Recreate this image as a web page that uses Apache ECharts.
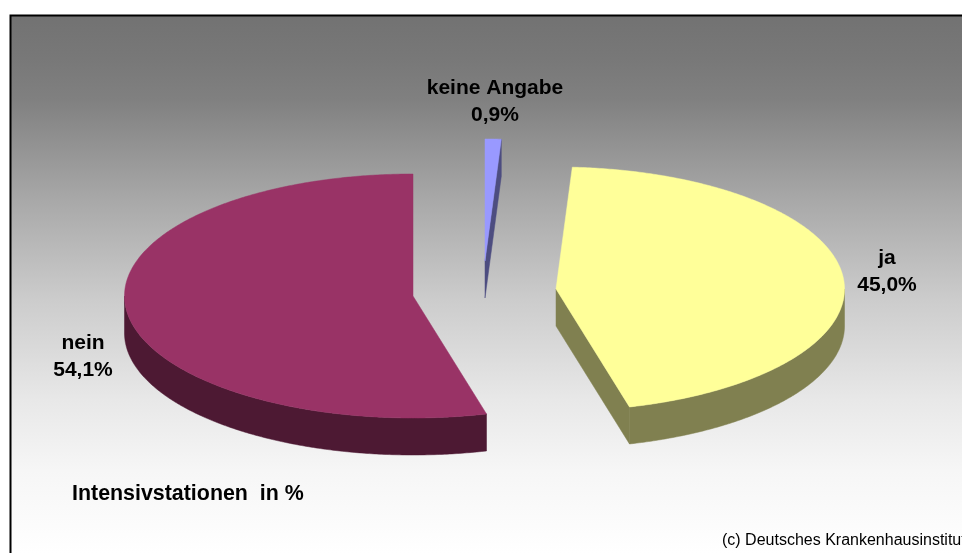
<!DOCTYPE html>
<html>
<head>
<meta charset="utf-8">
<style>html,body{margin:0;padding:0;background:#fff}#c{width:962px;height:553px}</style>
<script src="https://cdn.jsdelivr.net/npm/echarts@6/dist/echarts.min.js"></script>
</head>
<body>
<div id="c"></div>
<script>
// Data
const categories = ['keine Angabe', 'ja', 'nein'];
const shares = [0.9, 45.0, 54.1];
const topColors = ['#9999FF', '#FFFF99', '#993366'];
const wallColors = ['#4D4D80', '#808050', '#4D1933'];
const chartTitle = 'Intensivstationen  in %';
const credit = '(c) Deutsches Krankenhausinstitut';

// Layout of the tilted, exploded pie
const centers = [[485, 261], [556, 289], [413, 296]];
const labelCenters = [[495, 102], [887, 272], [83, 357]];
const RX = 288.5, RY = 122, DEPTH = 37;

const rad = d => d * Math.PI / 180;
const total = shares.reduce((a, b) => a + b, 0);

function rimPoint(c, deg, dy) {
  return [c[0] + RX * Math.sin(rad(deg)), c[1] - RY * Math.cos(rad(deg)) + (dy || 0)];
}
function arc(c, a0, a1, dy) {
  const n = Math.max(2, Math.ceil(Math.abs(a1 - a0) * 2));
  const pts = [];
  for (let i = 0; i <= n; i++) pts.push(rimPoint(c, a0 + (a1 - a0) * i / n, dy));
  return pts;
}
function poly(points, fill) {
  return { type: 'polygon', shape: { points }, style: { fill, stroke: fill, lineWidth: 0.5 } };
}

function renderSlice(params, api) {
  const i = api.value(0);
  const start = shares.slice(0, i).reduce((a, b) => a + b, 0) / total * 360;
  const end = start + shares[i] / total * 360;
  const c = centers[i];
  const wall = wallColors[i];
  const children = [];
  const down = [c[0], c[1] + DEPTH];

  // Cut faces turned towards the viewer
  if (Math.cos(rad(end + 90)) < 0) {
    children.push(poly([c, rimPoint(c, end), rimPoint(c, end, DEPTH), down], wall));
  }
  if (Math.cos(rad(start - 90)) < 0) {
    children.push(poly([c, rimPoint(c, start), rimPoint(c, start, DEPTH), down], wall));
  }
  // Outer wall: only the front half of the rim shows
  const a0 = Math.max(start, 90), a1 = Math.min(end, 270);
  if (a1 > a0) {
    children.push(poly(arc(c, a0, a1, 0).concat(arc(c, a1, a0, DEPTH)), wall));
  }
  // Top face
  children.push(poly([c].concat(arc(c, start, end, 0)), topColors[i]));
  // Label
  children.push({
    type: 'text',
    style: {
      x: labelCenters[i][0], y: labelCenters[i][1],
      text: categories[i] + '\n' + shares[i].toFixed(1).replace('.', ',') + '%',
      align: 'center', verticalAlign: 'middle',
      font: 'bold 21px "Liberation Sans", Arial, sans-serif',
      lineHeight: 27, fill: '#000'
    }
  });
  return { type: 'group', children };
}

// The panel runs past the window edges, so only its left and top borders show
const PANEL_HEIGHT = 700;
const stop = (y, color) => ({ offset: (y - 15.5) / PANEL_HEIGHT, color });

const chart = echarts.init(document.getElementById('c'), null, { renderer: 'canvas' });
chart.setOption({
  animation: false,
  backgroundColor: '#fff',
  graphic: [
    {
      type: 'rect', z: -10, silent: true,
      shape: { x: 10.5, y: 15.5, width: 1100, height: PANEL_HEIGHT },
      style: {
        fill: new echarts.graphic.LinearGradient(0, 0, 0, 1, [
          stop(15.5, '#727272'), stop(60, '#787878'), stop(100, '#808080'), stop(200, '#a8a8a8'),
          stop(300, '#cccccc'), stop(400, '#e8e8e8'), stop(470, '#f6f6f6'), stop(553, '#ffffff'),
          stop(715.5, '#ffffff')
        ]),
        stroke: '#000', lineWidth: 2
      }
    },
    {
      type: 'text', z: 5, silent: true,
      style: { x: 72, y: 494, text: chartTitle, verticalAlign: 'middle',
        font: 'bold 21.4px "Liberation Sans", Arial, sans-serif', fill: '#000' }
    },
    {
      type: 'text', z: 5, silent: true,
      style: { x: 722, y: 541, text: credit, verticalAlign: 'middle',
        font: '16px "Liberation Sans", Arial, sans-serif', fill: '#000' }
    }
  ],
  series: [{
    type: 'custom',
    coordinateSystem: 'none',
    silent: true,
    clip: false,
    renderItem: renderSlice,
    data: categories.map((name, i) => ({ name, value: [i, shares[i]] }))
  }]
});
</script>
</body>
</html>
